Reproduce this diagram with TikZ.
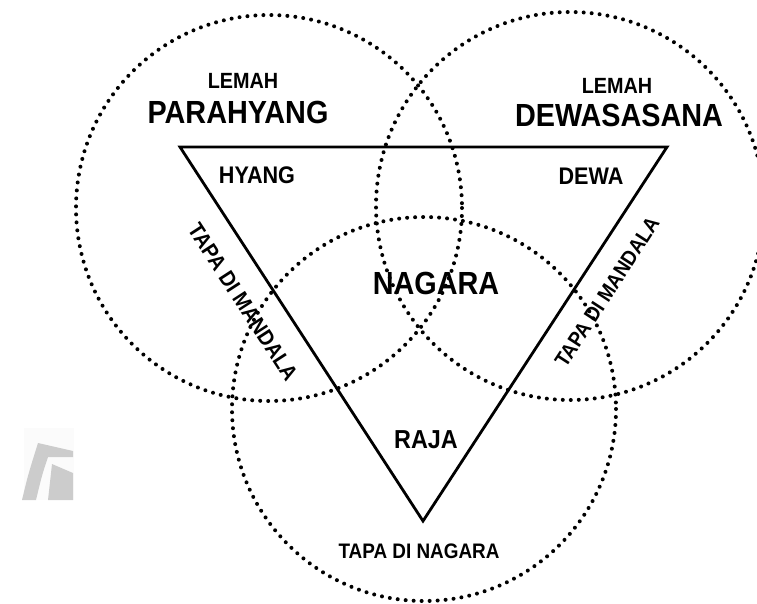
\documentclass[tikz,border=0pt]{standalone}
\usepackage{fontspec}
\setmainfont[FakeStretch=0.9]{Liberation Sans}
\begin{document}
\begin{tikzpicture}[x=1pt,y=-1pt,
  ring/.style={line width=4pt,line cap=round,dash pattern=on 0pt off 8pt},
  tri/.style={line width=2.8pt,line join=miter},
  lbl/.style={inner sep=0pt,font=\bfseries},
  mark/.style={fill=black!20,draw=none}]
\useasboundingbox (0,0) rectangle (757,603);
% watermark
\fill[black!1.5] (24,428) rectangle (74,500);
\fill[black!20] (38,443) -- (73,451) -- (73,457) -- (48,457) .. controls (42,475) .. (36,500) -- (22,500) .. controls (28,475) .. (38,443) -- cycle;
\fill[black!20] (52,464) -- (73,473) -- (73,500) -- (48,500) -- cycle;
% circles
\coordinate (cl) at (269,208);
\coordinate (cr) at (570,206);
\coordinate (cb) at (424,409);
\draw[ring] (cl) circle[radius=193];
\draw[ring] (cr) circle[radius=194];
\draw[ring] (cb) circle[radius=192];
% triangle
\coordinate (tl) at (180,147);
\coordinate (tr) at (667,147);
\coordinate (bt) at (423,521);
\draw[tri] (tl) -- (tr) -- (bt) -- cycle;
% labels
\node[lbl,font=\bfseries\fontsize{22}{22}\selectfont] (lemahL) at (243,81) {LEMAH};
\node[lbl,font=\bfseries\fontsize{32}{32}\selectfont] (para) at (238,112) {PARAHYANG};
\node[lbl,font=\bfseries\fontsize{24}{24}\selectfont] (hyang) at (257,175) {HYANG};
\node[lbl,font=\bfseries\fontsize{22}{22}\selectfont] (lemahR) at (617,86) {LEMAH};
\node[lbl,font=\bfseries\fontsize{32}{32}\selectfont] (dewas) at (619,115) {DEWASASANA};
\node[lbl,font=\bfseries\fontsize{24}{24}\selectfont] (dewa) at (591,176) {DEWA};
\node[lbl,font=\bfseries\fontsize{32}{32}\selectfont] (nagara) at (436,283) {NAGARA};
\node[lbl,font=\bfseries\fontsize{26}{26}\selectfont] (raja) at (426,440) {RAJA};
\node[lbl,font=\bfseries\fontsize{21}{21}\selectfont] (tdn) at (419,551) {TAPA DI NAGARA};
\node[lbl,font=\bfseries\fontsize{22}{22}\selectfont,rotate=-57] (tdmL) at (243,302) {TAPA DI MANDALA};
\node[lbl,font=\bfseries\fontsize{21}{21}\selectfont,rotate=57] (tdmR) at (607,292) {TAPA DI MANDALA};
\end{tikzpicture}
\end{document}
